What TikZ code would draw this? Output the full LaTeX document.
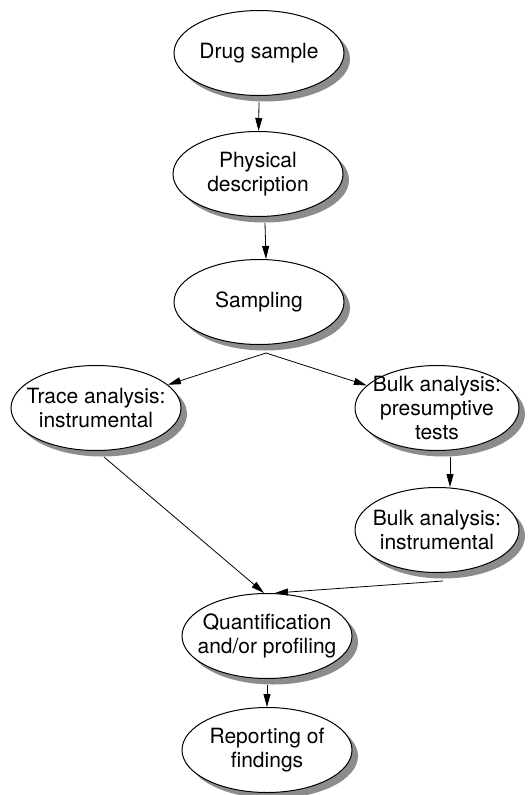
\documentclass[tikz,border=0pt]{standalone}
\usepackage{fontspec}
\setmainfont{TeX Gyre Heros}
\usetikzlibrary{shapes.geometric, shadows}
\usetikzlibrary{arrows.meta, positioning}

\begin{document}
\begin{tikzpicture}[
            x=1pt, y=-1pt,
            stage/.style={ellipse, draw, fill=white, line width=1pt,
                inner sep=-40pt, minimum width=170pt, minimum height=85pt,
                align=center, font={\fontsize{21pt}{24pt}\selectfont},
                drop shadow={shadow xshift=6pt, shadow yshift=-6pt, fill=black!45, opacity=1}},
            edge/.style={-{Triangle[length=13pt, width=7pt]}, line width=0.8pt}
        ]
        \useasboundingbox (0, 0) rectangle (530, 795);

        % Nodes (manual layout to match figure)
        \node[stage] (drug) at (259, 53) {Drug sample};
        \node[stage] (phys) at (258, 174) {Physical\\description};
        \node[stage] (samp) at (259, 302) {Sampling};
        \node[stage] (trace) at (96, 408) {Trace analysis:\\instrumental};
        \node[stage, minimum width=164pt] (bulkA) at (437, 408) {Bulk analysis:\\presumptive\\tests};
        \node[stage, minimum width=164pt] (bulkB) at (437, 530) {Bulk analysis:\\instrumental};
        \node[stage] (quant) at (267, 636) {Quantification\\and/or profiling};
        \node[stage] (report) at (267, 750) {Reporting of\\findings};

        % Edges
        \draw[edge] ([yshift=-6pt]drug.south) -- (phys);
        \draw[edge] ([xshift=7pt, yshift=-6pt]phys.south) -- ([xshift=7pt]samp.north);

        \coordinate (fork) at ([xshift=7pt, yshift=-8pt]samp.south);
        \draw[edge] (fork) -- (trace);
        \draw[edge] (fork) -- (bulkA);

        \draw[edge] ([xshift=13pt, yshift=-6pt]bulkA.south) -- ([xshift=13pt]bulkB.north);

        \draw[edge] ([xshift=8pt, yshift=-6pt]trace.south) -- ([xshift=-3pt]quant.north);
        \draw[edge] ([xshift=6pt, yshift=-8pt]bulkB.south) -- ([xshift=8pt]quant.north);

        \draw[edge] ([yshift=-6pt]quant.south) -- (report);

        \end{tikzpicture}
\end{document}
